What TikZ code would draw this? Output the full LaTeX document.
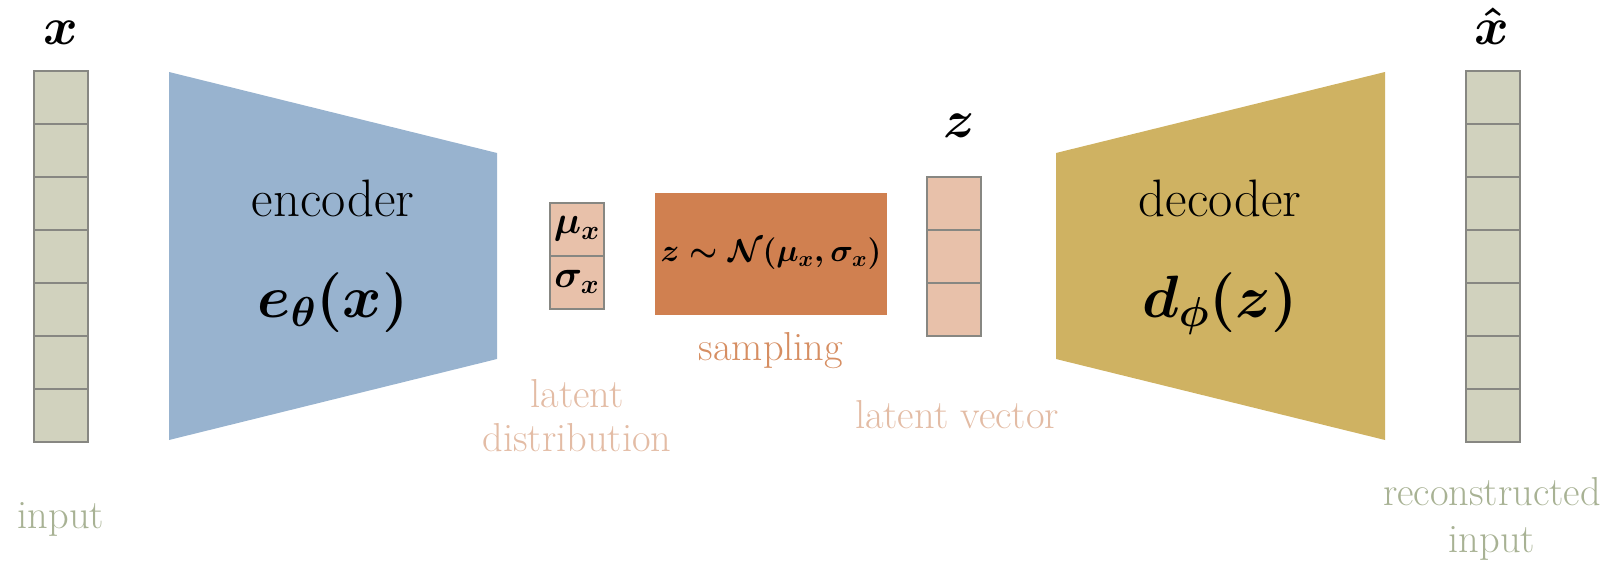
\RequirePackage{fix-cm}
\documentclass[tikz,border=0pt]{standalone}
\usepackage{amsmath}
\usepackage{fontspec}
\definecolor{vecgreen}{RGB}{209,210,190}
\definecolor{cellline}{RGB}{135,135,130}
\definecolor{encblue}{RGB}{152,179,207}
\definecolor{decgold}{RGB}{207,178,98}
\definecolor{samporange}{RGB}{208,128,80}
\definecolor{latentpink}{RGB}{232,193,170}
\definecolor{latenttext}{RGB}{227,188,165}
\definecolor{samptext}{RGB}{214,142,98}
\definecolor{inputtext}{RGB}{168,178,148}

\begin{document}
\begin{tikzpicture}[x=0.02cm,y=-0.02cm,
        cell/.style={draw=cellline,line width=0.9pt},
        blockname/.style={font=\fontsize{30}{36}\selectfont,anchor=base},
        blockfunc/.style={font=\fontsize{34}{40}\selectfont\boldmath,anchor=base},
        vecsym/.style={font=\fontsize{30}{36}\selectfont\boldmath,anchor=base},
        captiontext/.style={font=\fontsize{23}{25}\selectfont,anchor=base}]
                \useasboundingbox (0,0) rectangle (1621,563);
                \fill[encblue](169,72)--(497,153)--(497,359)--(169,440)--cycle;
                \fill[decgold](1056,153)--(1385,72)--(1385,440)--(1056,359)--cycle;
                \foreach \i in {0,...,6}{
                    \draw[cell,fill=vecgreen](34,71+53*\i) rectangle ++(54,53);
                    \draw[cell,fill=vecgreen](1466,71+53*\i) rectangle ++(54,53);
                }
                \foreach \i in {0,1}
                    \draw[cell,fill=latentpink](550,203+53*\i) rectangle ++(54,53);
                \foreach \i in {0,1,2}
                    \draw[cell,fill=latentpink](927,177+53*\i) rectangle ++(54,53);
                \node[vecsym](xlabel) at (61,45){$x$};
                \node[vecsym](xhatlabel) at (1492,45){$\hat{x}$};
                \node[vecsym](zlabel) at (959,138){$z$};
                \node[blockname](enclabel) at (333,217){encoder};
                \node[blockfunc](encfunc) at (333,318){$e_\theta(x)$};
                \node[blockname](declabel) at (1220,217){decoder};
                \node[blockfunc](decfunc) at (1220,318){$d_\phi(z)$};
                \node[font=\fontsize{22}{26}\selectfont\boldmath](mu) at (577,229){$\mu_x$};
                \node[font=\fontsize{22}{26}\selectfont\boldmath](sigma) at (577,282){$\sigma_x$};
                \node[fill=samporange,minimum width=4.6cm,minimum height=2.44cm,
                      font=\fontsize{18}{22}\selectfont\boldmath](sample) at (771,254){$z\sim\mathcal{N}(\mu_x,\sigma_x)$};
                \node[captiontext,text=samptext](samplabel) at (771,360){sampling};
                \node[captiontext,text=latenttext](distlabel) at (577,407){latent};
                \node[captiontext,text=latenttext](distlabel2) at (577,451){distribution};
                \node[captiontext,text=latenttext](veclabel) at (957,428){latent vector};
                \node[captiontext,text=inputtext](inlabel) at (61,528){input};
                \node[captiontext,text=inputtext](outlabel) at (1492,505){reconstructed};
                \node[captiontext,text=inputtext](outlabel2) at (1492,552){input};
            \end{tikzpicture}
\end{document}
